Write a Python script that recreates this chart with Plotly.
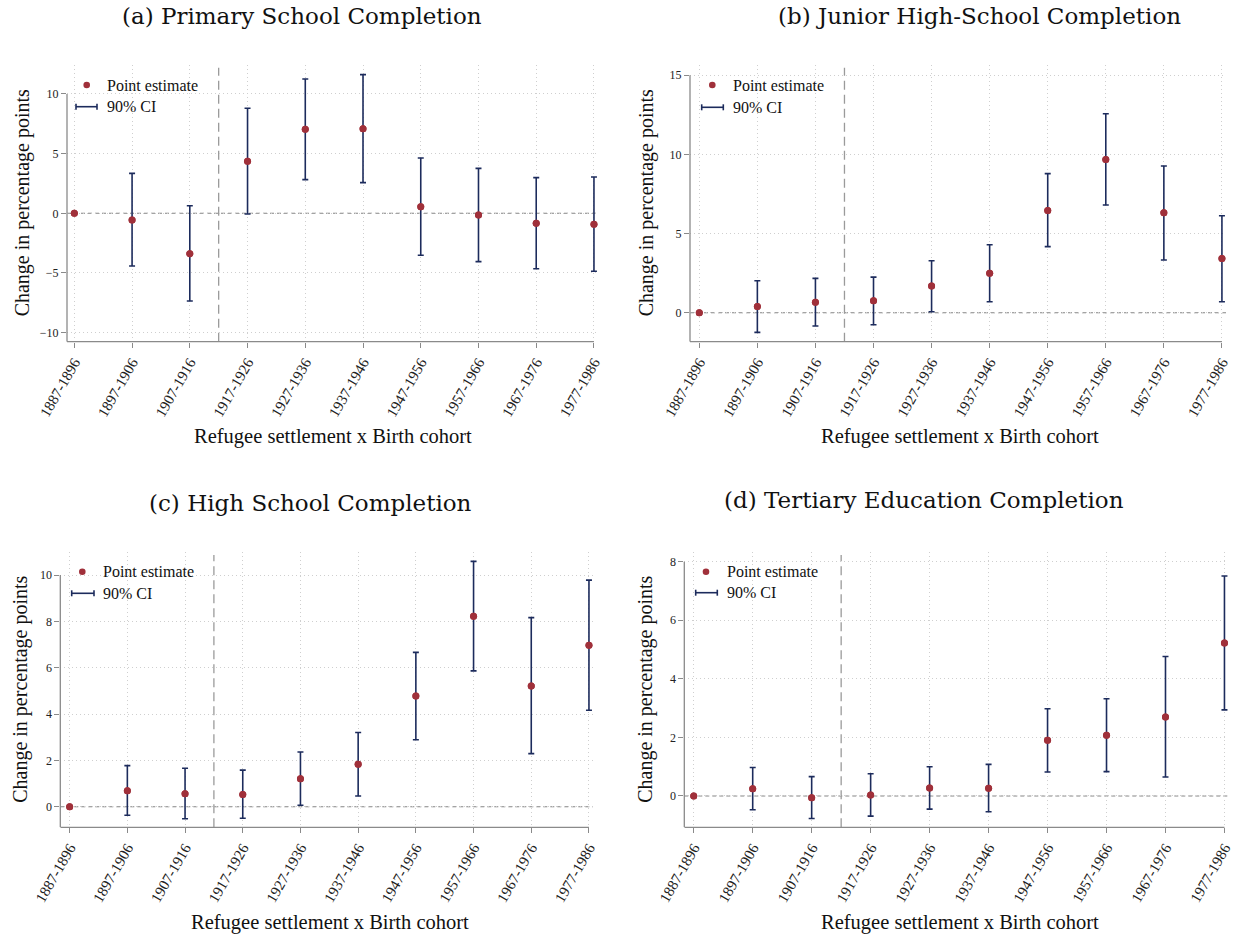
import plotly.graph_objects as go

W, H = 1239, 940

cohorts = ["1887-1896", "1897-1906", "1907-1916", "1917-1926", "1927-1936",
           "1937-1946", "1947-1956", "1957-1966", "1967-1976", "1977-1986"]

titles = ["(a) Primary School Completion", "(b) Junior High-School Completion",
          "(c) High School Completion", "(d) Tertiary Education Completion"]

# Panel (a) primary school
prim_est = [0.0, -0.56, -3.38, 4.36, 7.04, 7.09, 0.56, -0.14, -0.84, -0.92]
prim_hi = [0.0, 3.35, 0.64, 8.80, 11.26, 11.62, 4.64, 3.77, 2.99, 3.04]
prim_lo = [0.0, -4.42, -7.35, -0.06, 2.82, 2.57, -3.52, -4.05, -4.64, -4.86]

# Panel (b) junior high school
jun_est = [0.0, 0.40, 0.66, 0.76, 1.69, 2.49, 6.46, 9.68, 6.31, 3.43]
jun_hi = [0.0, 2.02, 2.17, 2.25, 3.28, 4.29, 8.78, 12.56, 9.26, 6.12]
jun_lo = [0.0, -1.24, -0.84, -0.76, 0.06, 0.69, 4.17, 6.80, 3.33, 0.69]

# Panel (c) high school
high_est = [0.0, 0.69, 0.56, 0.53, 1.21, 1.83, 4.78, 8.22, 5.21, 6.97]
high_hi = [0.0, 1.77, 1.66, 1.58, 2.36, 3.20, 6.66, 10.59, 8.16, 9.78]
high_lo = [0.0, -0.37, -0.52, -0.50, 0.06, 0.46, 2.89, 5.86, 2.29, 4.16]

# Panel (d) tertiary
ter_est = [0.0, 0.25, -0.06, 0.03, 0.27, 0.26, 1.90, 2.07, 2.70, 5.22]
ter_hi = [0.0, 0.97, 0.66, 0.76, 1.00, 1.08, 2.98, 3.32, 4.76, 7.51]
ter_lo = [0.0, -0.47, -0.77, -0.69, -0.45, -0.54, 0.82, 0.83, 0.65, 2.94]

yticks = [[-10, -5, 0, 5, 10], [0, 5, 10, 15], [0, 2, 4, 6, 8, 10], [0, 2, 4, 6, 8]]
yranges = [[-10.76, 12.43], [-1.83, 15.64], [-0.89, 10.98], [-1.07, 8.32]]
xranges = [[-0.127, 9.07], [-0.16, 9.07], [-0.162, 9.07], [-0.16, 9.06]]

series = [(prim_est, prim_lo, prim_hi), (jun_est, jun_lo, jun_hi),
          (high_est, high_lo, high_hi), (ter_est, ter_lo, ter_hi)]

# layout geometry (pixels)
boxes = [  # left, right, top, bottom
    (67, 598, 65, 341.7),
    (690, 1226, 65, 341.7),
    (60.3, 593, 552.3, 827.3),
    (684.3, 1228, 552.3, 827.3),
]
title_pos = [(302, 16), (979, 16), (310, 503), (924, 500)]
xtitle_pos = [(333, 437), (960, 437), (330, 922), (960, 922)]
ytitle_x = [22, 646, 21, 646]
legend_pos = [  # marker x, marker y, line x0, line x1, line y, text x
    (86.7, 85, 76, 97, 106.7, 105),
    (712.3, 85, 701.7, 723.3, 107.3, 731),
    (82.3, 571.7, 71.7, 94, 593.3, 101),
    (706, 571.7, 695.7, 717.3, 592.7, 725),
]

RED = "#a0303a"
NAVY = "#1c2b5c"
AXC = "#8a8a8a"
FONT = "Liberation Serif"

def px(x):
    return x / W

def py(y):
    return 1 - y / H

fig = go.Figure()
shapes = []
annotations = []
xcat = list(range(len(cohorts)))

for i in range(4):
    est, lo, hi = series[i]
    ax = "" if i == 0 else str(i + 1)
    xa, ya = "x" + ax, "y" + ax
    fig.add_trace(go.Scatter(
        x=xcat, y=est, mode="markers", xaxis=xa, yaxis=ya, showlegend=False,
        marker=dict(color=RED, size=7),
        error_y=dict(type="data", symmetric=False,
                     array=[h - e for h, e in zip(hi, est)],
                     arrayminus=[e - l for e, l in zip(est, lo)],
                     color=NAVY, thickness=1.6, width=3),
        hoverinfo="x+y"))
    fig.add_trace(go.Scatter(
        x=xcat, y=est, mode="markers", xaxis=xa, yaxis=ya, showlegend=False,
        marker=dict(color=RED, size=7), hoverinfo="skip"))

    l, r, t, b = boxes[i]
    grid = dict(showgrid=True, gridcolor="#cfcfcf", griddash="1px,3px", gridwidth=1,
                zeroline=False, showline=False, ticks="outside", ticklen=5,
                tickcolor=AXC, tickwidth=1, automargin=False)
    fig.layout["xaxis" + ax] = dict(
        domain=[px(l), px(r)], anchor=ya, range=xranges[i],
        tickmode="array", tickvals=xcat, ticktext=cohorts, tickangle=-60,
        tickfont=dict(family=FONT, size=15, color="#222"), **grid)
    fig.layout["yaxis" + ax] = dict(
        domain=[py(b), py(t)], anchor=xa, range=yranges[i],
        tickmode="array", tickvals=yticks[i],
        tickfont=dict(family=FONT, size=12, color="#222"), **grid)

    xd, yd = xa + " domain", ya + " domain"
    shapes.append(dict(type="line", xref=xd, yref=ya, x0=0, x1=0,
                       y0=yranges[i][0], y1=yticks[i][-1],
                       line=dict(color=AXC, width=1.3), layer="above"))
    shapes.append(dict(type="line", xref=xa, yref=yd, x0=xranges[i][0], x1=9,
                       y0=0, y1=0, line=dict(color=AXC, width=1.3), layer="above"))
    shapes.append(dict(type="line", xref=xd, yref=ya, x0=0, x1=1, y0=0, y1=0,
                       line=dict(color="#858585", width=1.1, dash="4px,3px"),
                       layer="below"))
    shapes.append(dict(type="line", xref=xa, yref=yd, x0=2.5, x1=2.5, y0=0, y1=0.99,
                       line=dict(color="#9a9a9a", width=1.3, dash="9px,5px"),
                       layer="below"))

    tx, ty = title_pos[i]
    annotations.append(dict(text=titles[i], x=px(tx), y=py(ty), xref="paper",
                            yref="paper", showarrow=False, xanchor="center",
                            yanchor="middle",
                            font=dict(family="DejaVu Serif", size=23, color="#111")))
    xx, xy = xtitle_pos[i]
    annotations.append(dict(text="Refugee settlement x Birth cohort", x=px(xx),
                            y=py(xy), xref="paper", yref="paper", showarrow=False,
                            xanchor="center", yanchor="middle",
                            font=dict(family=FONT, size=20.5, color="#111")))
    annotations.append(dict(text="Change in percentage points", x=px(ytitle_x[i]),
                            y=py((t + b) / 2), xref="paper", yref="paper",
                            showarrow=False, textangle=-90, xanchor="center",
                            yanchor="middle",
                            font=dict(family=FONT, size=20, color="#111")))

    mx, my, lx0, lx1, ly, txx = legend_pos[i]
    rr = 3.3
    shapes.append(dict(type="circle", xref="paper", yref="paper",
                       x0=px(mx - rr), x1=px(mx + rr), y0=py(my + rr), y1=py(my - rr),
                       fillcolor=RED, line=dict(color=RED, width=0)))
    shapes.append(dict(type="line", xref="paper", yref="paper",
                       x0=px(lx0), x1=px(lx1), y0=py(ly), y1=py(ly),
                       line=dict(color=NAVY, width=1.6)))
    for cx in (lx0, lx1):
        shapes.append(dict(type="line", xref="paper", yref="paper",
                           x0=px(cx), x1=px(cx), y0=py(ly - 3), y1=py(ly + 3),
                           line=dict(color=NAVY, width=1.6)))
    annotations.append(dict(text="Point estimate", x=px(txx), y=py(my),
                            xref="paper", yref="paper", showarrow=False,
                            xanchor="left", yanchor="middle",
                            font=dict(family=FONT, size=16, color="#111")))
    annotations.append(dict(text="90% CI", x=px(txx), y=py(ly),
                            xref="paper", yref="paper", showarrow=False,
                            xanchor="left", yanchor="middle",
                            font=dict(family=FONT, size=16, color="#111")))

fig.update_layout(width=W, height=H, margin=dict(l=0, r=0, t=0, b=0, autoexpand=False),
                  paper_bgcolor="white", plot_bgcolor="white",
                  shapes=shapes, annotations=annotations, showlegend=False)

fig.write_html("out.html", config={"displayModeBar": False},
               post_script="document.body.style.margin='0';document.body.style.overflow='hidden';")
